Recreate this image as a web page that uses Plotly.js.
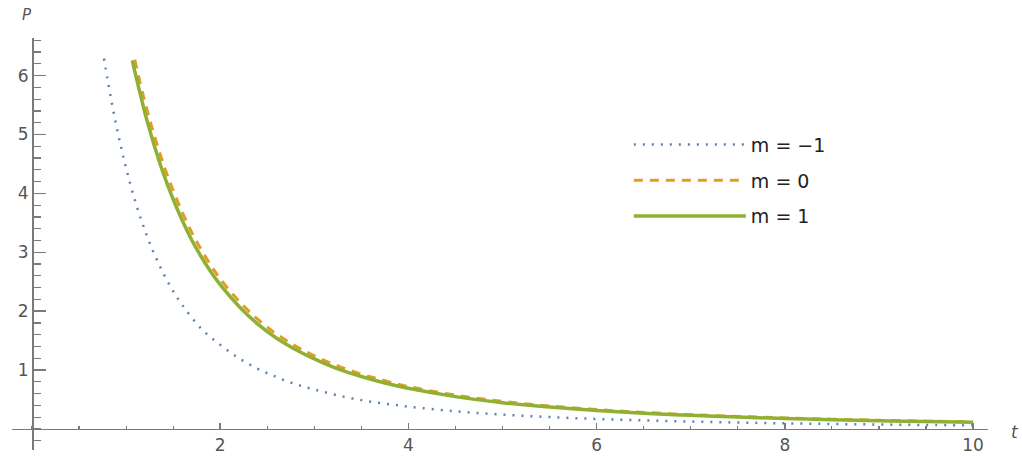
<!DOCTYPE html>
<html>
<head>
<meta charset="utf-8">
<script src="https://cdn.plot.ly/plotly-3.0.1.min.js"></script>
<style>html,body{margin:0;padding:0;background:#fff;}#chart{width:1022px;height:459px;}</style>
</head>
<body>
<div id="chart"></div>
<script>
// m = -1 (dotted blue)
const tBlue = [0.765, 0.8, 0.85, 0.9, 0.95, 1.0, 1.1, 1.2, 1.3, 1.4, 1.5, 1.6, 1.8, 2.0, 2.2, 2.4, 2.6, 2.8, 3.0, 3.25, 3.5, 3.75, 4, 4.5, 5, 5.5, 6, 6.5, 7, 7.5, 8, 8.5, 9, 9.5, 10];
const pBlue = [6.29, 5.96, 5.52, 5.12, 4.76, 4.43, 3.85, 3.37, 2.97, 2.63, 2.34, 2.10, 1.70, 1.43, 1.20, 1.02, 0.88, 0.76, 0.67, 0.57, 0.49, 0.43, 0.38, 0.30, 0.244, 0.202, 0.170, 0.145, 0.126, 0.109, 0.096, 0.085, 0.076, 0.068, 0.062];
// m = 0 (dashed orange)
const tOrange = [1.092, 1.15, 1.2, 1.25, 1.3, 1.4, 1.5, 1.6, 1.7, 1.8, 1.9, 2.0, 2.2, 2.4, 2.6, 2.8, 3.0, 3.25, 3.5, 3.75, 4.0, 4.5, 5, 5.5, 6, 6.5, 7, 7.5, 8, 8.5, 9, 9.5, 10];
const pOrange = [6.27, 5.87, 5.55, 5.26, 4.98, 4.48, 4.05, 3.67, 3.33, 3.04, 2.78, 2.55, 2.17, 1.86, 1.61, 1.41, 1.24, 1.07, 0.93, 0.82, 0.72, 0.576, 0.469, 0.390, 0.329, 0.281, 0.243, 0.212, 0.187, 0.166, 0.148, 0.133, 0.120];
// m = 1 (solid green)
const tGreen = [1.066, 1.1, 1.15, 1.2, 1.25, 1.3, 1.4, 1.5, 1.6, 1.7, 1.8, 1.9, 2.0, 2.2, 2.4, 2.6, 2.8, 3.0, 3.25, 3.5, 3.75, 4.0, 4.5, 5, 5.5, 6, 6.5, 7, 7.5, 8, 8.5, 9, 9.5, 10];
const pGreen = [6.26, 6.02, 5.69, 5.37, 5.08, 4.81, 4.32, 3.90, 3.53, 3.20, 2.92, 2.67, 2.45, 2.08, 1.78, 1.54, 1.35, 1.19, 1.02, 0.89, 0.78, 0.69, 0.549, 0.447, 0.372, 0.313, 0.268, 0.231, 0.202, 0.178, 0.158, 0.141, 0.126, 0.114];

const seriesNames = ["m = \u22121", "m = 0", "m = 1"];
const xTicks = [2, 4, 6, 8, 10];
const yTicks = [1, 2, 3, 4, 5, 6];

const axisColor = '#7a7a7a';
const tickFont = {family: 'DejaVu Sans', size: 17, color: '#555555'};

const traces = [
  {x: tBlue, y: pBlue, name: seriesNames[0], mode: 'lines', legendgroup: 'a',
   line: {color: '#5E81B5', width: 2.5, dash: '2px,7px', shape: 'spline'}},
  {x: tOrange, y: pOrange, name: seriesNames[1], mode: 'lines', legendgroup: 'b',
   line: {color: '#E19C24', width: 3, dash: '9px,7px', shape: 'spline'}},
  {x: tGreen, y: pGreen, name: seriesNames[2], mode: 'lines', legendgroup: 'c',
   line: {color: '#8FB032', width: 3.5, shape: 'spline'}}
];

const layout = {
  width: 1022, height: 459,
  margin: {l: 12, r: 34, t: 38, b: 9},
  paper_bgcolor: '#ffffff', plot_bgcolor: '#ffffff',
  showlegend: true,
  hovermode: false,
  xaxis: {
    range: [-0.2125, 10.159],
    anchor: 'free', position: 0.051,
    showgrid: false, zeroline: false,
    showline: true, linecolor: axisColor, linewidth: 1.5,
    tickmode: 'array', tickvals: xTicks, ticktext: xTicks.map(String),
    ticks: 'inside', ticklen: 6, tickwidth: 1.5, tickcolor: axisColor,
    minor: {dtick: 0.5, ticks: 'inside', ticklen: 3, tickwidth: 1.2, tickcolor: axisColor, showgrid: false},
    tickfont: tickFont
  },
  yaxis: {
    range: [-0.357, 6.638],
    anchor: 'free', position: 0.0205,
    showgrid: false, zeroline: false,
    showline: true, linecolor: axisColor, linewidth: 1.5,
    tickmode: 'array', tickvals: yTicks, ticktext: yTicks.map(String),
    ticks: 'inside', ticklen: 12, tickwidth: 1.5, tickcolor: axisColor,
    minor: {dtick: 0.2, ticks: 'inside', ticklen: 7, tickwidth: 1.2, tickcolor: axisColor, showgrid: false},
    tickfont: tickFont
  },
  legend: {
    x: 0.632, y: 0.787, xanchor: 'left', yanchor: 'top',
    bgcolor: 'rgba(0,0,0,0)',
    font: {family: 'DejaVu Sans', size: 19, color: '#222222'},
    itemwidth: 112,
    tracegroupgap: 8
  },
  annotations: [
    {text: '<i>P</i>', xref: 'paper', yref: 'paper', x: 0.0154, y: 1.056, showarrow: false,
     xanchor: 'center', yanchor: 'middle', font: {family: 'DejaVu Sans', size: 15, color: '#555555'}},
    {text: '<i>t</i>', xref: 'paper', yref: 'paper', x: 1.0277, y: 0.044, showarrow: false,
     xanchor: 'center', yanchor: 'middle', font: {family: 'DejaVu Sans', size: 17, color: '#555555'}}
  ]
};

Plotly.newPlot('chart', traces, layout, {displayModeBar: false, staticPlot: true});
</script>
</body>
</html>
